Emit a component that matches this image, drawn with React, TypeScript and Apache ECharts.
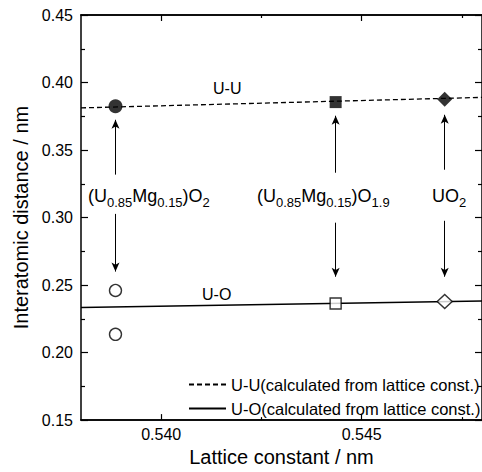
import React, { useEffect, useRef } from "react";
import * as echarts from "echarts";

// x: lattice constant (nm), y: interatomic distance (nm)
const pointX = [0.53886, 0.54435, 0.54707];
const uuMeasured = [0.3824, 0.3855, 0.3877];
const uoCircleX = [0.53886, 0.53886];
const uoCircleY = [0.246, 0.2135];
const uoSquare = [0.54435, 0.2363];
const uoDiamond = [0.54707, 0.2378];

const calcX = [0.538, 0.548];
const uuCalc = [0.3812, 0.389];
const uoCalc = [0.2334, 0.2382];

const arrowUpFrom = [0.3318, 0.3332, 0.3354];
const arrowUpTo = [0.3724, 0.3754, 0.3761];
const arrowDownFrom = [0.3027, 0.2962, 0.2976];
const arrowDownTo = [0.26, 0.2562, 0.2562];

const xMajor = [0.54, 0.545];
const xMinor = [0.5425, 0.5475];

const UU_NAME = "U-U(calculated from lattice const.)";
const UO_NAME = "U-O(calculated from lattice const.)";

const FONT = "Liberation Sans, Arial, Helvetica, sans-serif";

export default function App() {
  const ref = useRef<HTMLDivElement>(null);
  useEffect(() => {
    if (!ref.current) return;
    const chart = echarts.init(ref.current, null, { renderer: "svg" });
    const axisLine = { show: true, lineStyle: { color: "#000", width: 1.5 } };
    const baseX = {
      type: "value",
      min: 0.538,
      max: 0.548,
      splitLine: { show: false },
      axisLine,
    };
    const baseY = {
      type: "value",
      min: 0.15,
      max: 0.45,
      interval: 0.05,
      splitLine: { show: false },
      axisLine,
      axisTick: { show: true, inside: true, length: 7, lineStyle: { color: "#000", width: 1.2 } },
      minorTick: { show: true, splitNumber: 2, length: 4, lineStyle: { color: "#000", width: 1.2 } },
    };
    const arrows: any[] = [];
    for (let i = 0; i < pointX.length; i++) {
      arrows.push([{ coord: [pointX[i], arrowUpFrom[i]] }, { coord: [pointX[i], arrowUpTo[i]] }]);
      arrows.push([{ coord: [pointX[i], arrowDownFrom[i]] }, { coord: [pointX[i], arrowDownTo[i]] }]);
    }
    const sub = { fontSize: 13, fontFamily: FONT, color: "#000", lineHeight: 22, verticalAlign: "bottom" };
    const main = { fontSize: 18, fontFamily: FONT, color: "#000", lineHeight: 18, verticalAlign: "top" };
    const labelText = (left: number, text: string) => ({
      type: "text",
      left,
      top: 187,
      style: { text, rich: { m: main, s: sub }, fill: "#000" },
    });
    chart.setOption({
      animation: false,
      backgroundColor: "#fff",
      textStyle: { fontFamily: FONT },
      grid: { left: 81, top: 15, width: 405, height: 413, containLabel: false },
      xAxis: [
        {
          ...baseX,
          position: "bottom",
          name: "Lattice constant / nm",
          nameLocation: "middle",
          nameGap: 25,
          nameTextStyle: { fontSize: 20, color: "#000", fontFamily: FONT },
          axisTick: { show: true, inside: true, length: 6, customValues: xMajor, lineStyle: { color: "#000", width: 1.2 } },
          axisLabel: { show: true, customValues: xMajor, fontSize: 16, color: "#000", margin: 6, formatter: (v: number) => v.toFixed(3) },
        },
        {
          ...baseX,
          position: "bottom",
          axisTick: { show: true, inside: true, length: 3, customValues: xMinor, lineStyle: { color: "#000", width: 1.2 } },
          axisLabel: { show: false },
        },
        {
          ...baseX,
          position: "top",
          axisTick: { show: true, inside: true, length: 6, customValues: xMajor, lineStyle: { color: "#000", width: 1.2 } },
          axisLabel: { show: false },
        },
        {
          ...baseX,
          position: "top",
          axisTick: { show: true, inside: true, length: 3, customValues: xMinor, lineStyle: { color: "#000", width: 1.2 } },
          axisLabel: { show: false },
        },
      ],
      yAxis: [
        {
          ...baseY,
          position: "left",
          name: "Interatomic distance / nm",
          nameLocation: "middle",
          nameGap: 47,
          nameTextStyle: { fontSize: 20, color: "#000", fontFamily: FONT },
          axisLabel: { show: true, fontSize: 16, color: "#000", margin: 8, formatter: (v: number) => v.toFixed(2) },
        },
        { ...baseY, position: "right", axisLabel: { show: false } },
      ],
      legend: {
        orient: "vertical",
        left: 183,
        top: 371,
        itemWidth: 37,
        itemHeight: 14,
        itemGap: 7,
        data: [UU_NAME, UO_NAME],
        itemStyle: { opacity: 0, color: "transparent", borderWidth: 0 },
        textStyle: { fontSize: 16.5, color: "#000", fontFamily: FONT },
      },
      series: [
        {
          name: UU_NAME,
          type: "line",
          symbol: "none",
          data: calcX.map((x, i) => [x, uuCalc[i]]),
          lineStyle: { color: "#000", width: 1.3, type: [5, 3] },
          itemStyle: { color: "#000" },
          z: 2,
        },
        {
          name: UO_NAME,
          type: "line",
          symbol: "none",
          data: calcX.map((x, i) => [x, uoCalc[i]]),
          lineStyle: { color: "#000", width: 1.3, type: "solid" },
          itemStyle: { color: "#000" },
          z: 2,
          markLine: {
            silent: true,
            symbol: ["none", "arrow"],
            symbolSize: [6, 9],
            label: { show: false },
            lineStyle: { color: "#000", width: 1, type: "solid" },
            data: arrows,
          },
        },
        {
          type: "scatter",
          data: [[pointX[0], uuMeasured[0]]],
          symbol: "circle",
          symbolSize: 14,
          itemStyle: { color: "#000" },
          z: 5,
        },
        {
          type: "scatter",
          data: [[pointX[1], uuMeasured[1]]],
          symbol: "rect",
          symbolSize: 12,
          itemStyle: { color: "#000" },
          z: 5,
        },
        {
          type: "scatter",
          data: [[pointX[2], uuMeasured[2]]],
          symbol: "diamond",
          symbolSize: [15, 15],
          itemStyle: { color: "#000" },
          z: 5,
        },
        {
          type: "scatter",
          data: uoCircleX.map((x, i) => [x, uoCircleY[i]]),
          symbol: "circle",
          symbolSize: 12,
          itemStyle: { color: "#fff", borderColor: "#000", borderWidth: 1.4 },
          z: 5,
        },
        {
          type: "scatter",
          data: [uoSquare],
          symbol: "rect",
          symbolSize: 11,
          itemStyle: { color: "#fff", borderColor: "#000", borderWidth: 1.4 },
          z: 5,
        },
        {
          type: "scatter",
          data: [uoDiamond],
          symbol: "diamond",
          symbolSize: [15, 14],
          itemStyle: { color: "#fff", borderColor: "#000", borderWidth: 1.4 },
          z: 5,
        },
      ],
      graphic: [
        labelText(88, "{m|(U}{s|0.85}{m|Mg}{s|0.15}{m|)O}{s|2}"),
        labelText(257, "{m|(U}{s|0.85}{m|Mg}{s|0.15}{m|)O}{s|1.9}"),
        labelText(432, "{m|UO}{s|2}"),
        { type: "text", left: 213, top: 80, style: { text: "U-U", fontSize: 16, fontFamily: FONT, fill: "#000" } },
        { type: "text", left: 202, top: 286, style: { text: "U-O", fontSize: 16, fontFamily: FONT, fill: "#000" } },
      ],
    });
    return () => chart.dispose();
  }, []);
  return (
    <div
      ref={ref}
      style={{ position: "fixed", left: 0, top: 0, width: 482, height: 472, background: "#fff" }}
    />
  );
}
